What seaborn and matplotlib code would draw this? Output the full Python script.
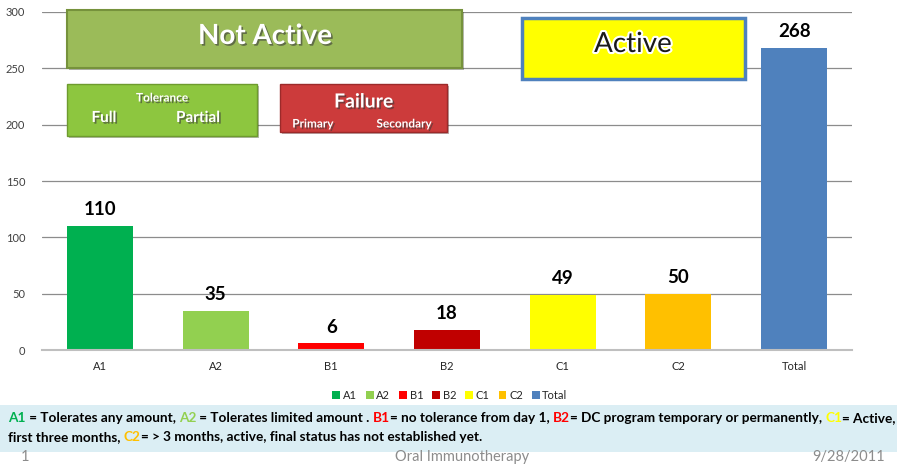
import matplotlib
matplotlib.use("Agg")
import matplotlib.pyplot as plt
import matplotlib.patheffects as pe
from matplotlib.patches import Rectangle, Patch
from matplotlib.offsetbox import TextArea, HPacker, VPacker, AnchoredOffsetbox
import seaborn as sns
import pandas as pd

categories = ["A1", "A2", "B1", "B2", "C1", "C2", "Total"]
values = [110, 35, 6, 18, 49, 50, 268]
colors = ["#00B050", "#92D050", "#FF0000", "#C00000", "#FFFF00", "#FFC000", "#4F81BD"]
yticks = [0, 50, 100, 150, 200, 250, 300]

sns.set_theme(style="white")
plt.rcParams["font.family"] = ["Lato", "DejaVu Sans"]

W, H = 897, 465
fig = plt.figure(figsize=(W / 100, H / 100), dpi=100)
ax = fig.add_axes([42 / W, 1 - 350 / H, 810 / W, 338 / H])

df = pd.DataFrame({"cat": categories, "val": values})
sns.barplot(data=df, x="cat", y="val", hue="cat", palette=dict(zip(categories, colors)),
            width=0.57, legend=False, ax=ax, saturation=1, linewidth=0)

ax.set_ylim(0, 300)
ax.set_xlim(-0.5, len(categories) - 0.5)
ax.set_yticks(yticks)
ax.set_xlabel("")
ax.set_ylabel("")
for s in ["top", "right", "left"]:
    ax.spines[s].set_visible(False)
ax.spines["bottom"].set_color("#BFBFBF")
ax.spines["bottom"].set_linewidth(1.5)
ax.yaxis.grid(True, color="#8C8C8C", linewidth=0.9)
ax.set_axisbelow(True)
ax.tick_params(axis="y", length=0, labelsize=8, labelcolor="#404040", pad=12)
ax.tick_params(axis="x", length=0, labelsize=8, labelcolor="#262626", pad=8)

for i, v in enumerate(values):
    ax.annotate(str(v), (i, v), xytext=(0, 5.5), textcoords="offset points",
                ha="center", va="bottom", fontsize=13.5, fontweight="bold", color="black")

shadow = [pe.withSimplePatchShadow(offset=(1.2, -1.2), shadow_rgbFace="#3a3a3a", alpha=0.6)]


def box(x0, y0, x1, y1, face, edge, lw=1.5):
    r = Rectangle((x0 / W, 1 - y1 / H), (x1 - x0) / W, (y1 - y0) / H,
                  transform=fig.transFigure, facecolor=face, edgecolor=edge,
                  linewidth=lw, zorder=5,
                  path_effects=[pe.SimplePatchShadow(offset=(1.5, -1.5), alpha=0.35), pe.Normal()])
    fig.add_artist(r)


def ftext(x, y, s, size, **kw):
    fig.text(x / W, 1 - y / H, s, fontsize=size, zorder=6, ha="center", va="center", **kw)


# Not Active box
box(67, 10, 462, 68, "#9BBB59", "#76923C", 1.5)
ftext(265, 36, "Not Active", 20, color="white", fontweight="bold", path_effects=shadow)

# Active box
box(522, 18, 745, 79, "#FFFF00", "#4F81BD", 2.5)
ftext(633, 44, "Active", 20, color="#1a1a1a",
      path_effects=[pe.withStroke(linewidth=3, foreground="white")])

# Tolerance box
box(67, 84, 257, 136, "#8DC63F", "#6E9B2E", 1)
ftext(162, 98, "Tolerance", 8.5, color="white", fontweight="bold", path_effects=shadow)
ftext(104, 118, "Full", 11, color="white", fontweight="bold", path_effects=shadow)
ftext(198, 118, "Partial", 11, color="white", fontweight="bold", path_effects=shadow)

# Failure box
box(280, 84, 447, 132, "#CC3B3B", "#9C2A2A", 1)
ftext(364, 102, "Failure", 14, color="white", fontweight="bold", path_effects=shadow)
ftext(313, 124, "Primary", 8.5, color="white", fontweight="bold", path_effects=shadow)
ftext(404, 124, "Secondary", 8.5, color="white", fontweight="bold", path_effects=shadow)

# Legend
handles = [Patch(facecolor=c, edgecolor="none") for c in colors]
fig.legend(handles, categories, loc="center", bbox_to_anchor=(450 / W, 1 - 395 / H),
           ncol=7, frameon=False, fontsize=8, handlelength=0.7, handleheight=0.7,
           handletextpad=0.25, columnspacing=0.8)

# Footnote band
fig.add_artist(Rectangle((0, 1 - 452 / H), 1, 47 / H, transform=fig.transFigure,
                         facecolor="#DBEEF4", edgecolor="none", zorder=1))

fs = 9.8
def seg(s, c):
    return TextArea(s, textprops=dict(color=c, fontsize=fs, fontweight="bold"))

line1 = HPacker(children=[
    seg("A1", "#00B050"), seg(" = Tolerates any amount, ", "black"),
    seg("A2", "#92D050"), seg(" = Tolerates limited amount . ", "black"),
    seg("B1", "#FF0000"), seg("= no tolerance from day 1, ", "black"),
    seg("B2", "#FF0000"), seg("= DC program temporary or permanently, ", "black"),
    seg("C1", "#FFFF00"), seg("= Active,", "black")], pad=0, sep=0)
line2 = HPacker(children=[
    seg("first three months, ", "black"), seg("C2", "#FFC000"),
    seg("= > 3 months, active, final status has not established yet.", "black")], pad=0, sep=0)
vp = VPacker(children=[line1, line2], pad=0, sep=5, align="left")
ab = AnchoredOffsetbox(loc="upper left", child=vp, frameon=False, pad=0, borderpad=0,
                       bbox_to_anchor=(8 / W, 1 - 412 / H), bbox_transform=fig.transFigure)
ab.set_zorder(3)
fig.add_artist(ab)

# Footer
ftext(25, 457, "1", 10.5, color="#8C8C8C")
ftext(462, 457, "Oral Immunotherapy", 10.5, color="#8C8C8C")
fig.text(885 / W, 1 - 457 / H, "9/28/2011", fontsize=10.5, color="#8C8C8C", ha="right", va="center")

fig.savefig("out.png", dpi=100)
